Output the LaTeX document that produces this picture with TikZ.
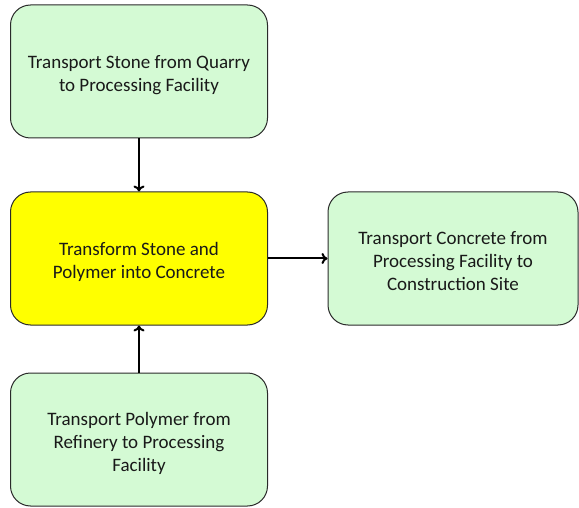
\documentclass[tikz,border=0pt]{standalone}
\usepackage{fontspec}
\setmainfont{Carlito}
\usetikzlibrary{arrows.meta}
\definecolor{boxgreen}{HTML}{D4FAD4}
\definecolor{boxyellow}{HTML}{FFFF00}
\definecolor{boxedge}{HTML}{2A2A2A}
% centred multi-line label, set slightly below the box centre
\newcommand{\stagetext}[1]{\raisebox{-4pt}[\height][\depth]{\begin{tabular}{@{}c@{}}#1\end{tabular}}}
\tikzset{
  stagebox/.style={draw=boxedge, line width=1pt, rounded corners=20pt,
    minimum width=257pt, minimum height=133pt, align=center,
    font=\fontsize{19}{23}\selectfont, text=black!90, inner sep=0pt},
  greenbox/.style={stagebox, fill=boxgreen},
  yellowbox/.style={stagebox, fill=boxyellow},
  flow/.style={draw=black, line width=2pt, -{To[length=6pt,width=11pt]}}
}
\begin{document}
\begin{tikzpicture}[x=1pt,y=-1pt]
  \useasboundingbox (0,0) rectangle (579,508);
  \node[greenbox] (stone) at (139,71.5) {\stagetext{Transport Stone from Quarry\\to Processing Facility}};
  \node[yellowbox] (mix) at (139,258.5) {\stagetext{Transform Stone and\\Polymer into Concrete}};
  \node[greenbox, minimum width=250pt] (ship) at (453,258.5) {\stagetext{Transport Concrete from\\Processing Facility to\\Construction Site}};
  \node[greenbox] (poly) at (139,439.5) {\stagetext{Transport Polymer from\\Refinery to Processing\\Facility}};
  \draw[flow] (stone) -- (mix);
  \draw[flow] (poly) -- (mix);
  \draw[flow] (mix) -- (ship);
\end{tikzpicture}
\end{document}
